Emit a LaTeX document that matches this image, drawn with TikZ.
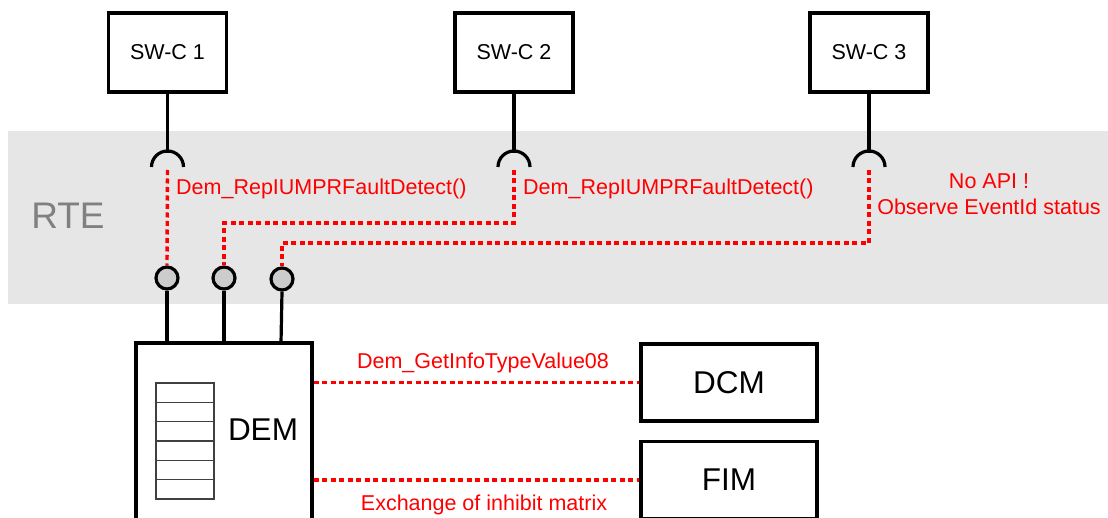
\documentclass[tikz,border=0pt]{standalone}
\usepackage{fontspec}
\setmainfont{Liberation Sans}
\definecolor{rtegray}{HTML}{E6E6E6}
\definecolor{portgray}{HTML}{CCCCCC}
\tikzset{
  swc/.style={draw, line width=3.2pt, minimum width=118pt, minimum height=79pt, inner sep=0pt, font=\fontsize{21.5}{25}\selectfont},
  module/.style={draw, line width=3.2pt, minimum width=176pt, minimum height=77pt, inner sep=0pt, font=\fontsize{31.5}{36}\selectfont},
  port/.style={draw, line width=3.2pt, fill=portgray, circle, minimum size=22pt, inner sep=0pt},
  wire/.style={line width=3.2pt},
  call/.style={draw=red, line width=3.4pt, dash pattern=on 5pt off 3.5pt},
  calltext/.style={text=red, font=\fontsize{21.5}{25}\selectfont, inner sep=0pt},
  cell/.style={draw=black!75, line width=1.5pt}
}
\begin{document}
\begin{tikzpicture}[x=1pt, y=1pt]
\useasboundingbox (0,0) rectangle (1108,517);
\clip (0,0) rectangle (1108,517);

\fill[rtegray] (8,213) rectangle (1108,386);
\node[text=black!50, font=\fontsize{37}{40}\selectfont, inner sep=0pt] (rte) at (68,301) {RTE};

\node[swc] (swc1) at (167.5,464.5) {SW-C 1};
\node[swc] (swc2) at (514,464.5) {SW-C 2};
\node[swc] (swc3) at (869,464.5) {SW-C 3};

\coordinate (sock1) at (167.5,350);
\coordinate (sock2) at (514,350);
\coordinate (sock3) at (869,350);

\node[port] (port1) at (167,239) {};
\node[port] (port2) at (224,239) {};
\node[port] (port3) at (282,238) {};

\node[draw, line width=3.2pt, minimum width=176pt, minimum height=219pt] (dem) at (224,64.5) {};
\node[font=\fontsize{31.5}{36}\selectfont, inner sep=0pt, anchor=base] (demlabel) at (263,77) {DEM};
\foreach \i in {0,...,5}
  \draw[cell] (156,134-\i*19.33) rectangle ++(58,-19.33);

\node[module] (dcm) at (729,134.5) {DCM};
\node[module] (fim) at (729,37) {FIM};

\draw[wire] (swc1.south) -- ++(0,-59);
\draw[wire] (swc2.south) -- ++(0,-59);
\draw[wire] (swc3.south) -- ++(0,-59);
\draw[wire] ([xshift=-16pt]sock1) arc (180:0:16);
\draw[wire] ([xshift=-16pt]sock2) arc (180:0:16);
\draw[wire] ([xshift=-16pt]sock3) arc (180:0:16);

\draw[wire] (port1.south) -- (port1.south |- dem.north);
\draw[wire] (port2.south) -- (port2.south |- dem.north);
\draw[wire] (port3.south) -- (281,174);

\draw[call] ([yshift=-3pt]sock1) -- (port1.north);
\draw[call] ([yshift=-3pt]sock2) -- (514,294) -| (port2.north);
\draw[call] ([yshift=-3pt]sock3) -- (869,274) -| (port3.north);

\draw[call] (dcm.west -| dem.east) -- (dcm.west);
\draw[call] (fim.west -| dem.east) -- (fim.west);

\node[calltext, anchor=base west] (rep1) at (176,322) {Dem\_RepIUMPRFaultDetect()};
\node[calltext, anchor=base west] (rep2) at (523,322) {Dem\_RepIUMPRFaultDetect()};
\node[calltext, anchor=base] (noapi) at (989,328) {No API !};
\node[calltext, anchor=base] (observe) at (989,302) {Observe EventId status};
\node[calltext, anchor=base] (getinfo) at (483,148) {Dem\_GetInfoTypeValue08};
\node[calltext, anchor=base] (inhibit) at (484,7) {Exchange of inhibit matrix};
\end{tikzpicture}
\end{document}
